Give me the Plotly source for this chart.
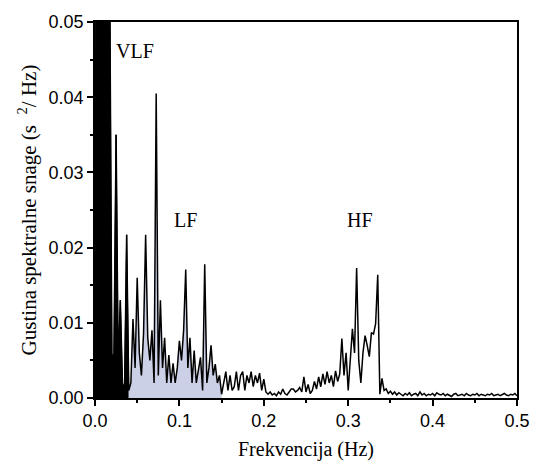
import plotly.graph_objects as go

freq = [
    0.0000, 0.0025, 0.0050, 0.0075, 0.0100, 0.0125, 0.0150, 0.0175, 0.0200, 0.0225,
    0.0250, 0.0275, 0.0300, 0.0325, 0.0350, 0.0375, 0.0400, 0.0425, 0.0450, 0.0475,
    0.0500, 0.0525, 0.0550, 0.0575, 0.0600, 0.0625, 0.0650, 0.0675, 0.0700, 0.0725,
    0.0750, 0.0775, 0.0800, 0.0825, 0.0850, 0.0875, 0.0900, 0.0925, 0.0950, 0.0975,
    0.1000, 0.1025, 0.1050, 0.1075, 0.1100, 0.1125, 0.1150, 0.1175, 0.1200, 0.1225,
    0.1250, 0.1275, 0.1300, 0.1325, 0.1350, 0.1375, 0.1400, 0.1425, 0.1450, 0.1475,
    0.1500, 0.1525, 0.1550, 0.1575, 0.1600, 0.1625, 0.1650, 0.1675, 0.1700, 0.1725,
    0.1750, 0.1775, 0.1800, 0.1825, 0.1850, 0.1875, 0.1900, 0.1925, 0.1950, 0.1975,
    0.2000, 0.2025, 0.2050, 0.2075, 0.2100, 0.2125, 0.2150, 0.2175, 0.2200, 0.2225,
    0.2250, 0.2275, 0.2300, 0.2325, 0.2350, 0.2375, 0.2400, 0.2425, 0.2450, 0.2475,
    0.2500, 0.2525, 0.2550, 0.2575, 0.2600, 0.2625, 0.2650, 0.2675, 0.2700, 0.2725,
    0.2750, 0.2775, 0.2800, 0.2825, 0.2850, 0.2875, 0.2900, 0.2925, 0.2950, 0.2975,
    0.3000, 0.3025, 0.3050, 0.3075, 0.3100, 0.3125, 0.3150, 0.3175, 0.3200, 0.3225,
    0.3250, 0.3275, 0.3300, 0.3325, 0.3350, 0.3375, 0.3400, 0.3425, 0.3450, 0.3475,
    0.3500, 0.3525, 0.3550, 0.3575, 0.3600, 0.3625, 0.3650, 0.3675, 0.3700, 0.3725,
    0.3750, 0.3775, 0.3800, 0.3825, 0.3850, 0.3875, 0.3900, 0.3925, 0.3950, 0.3975,
    0.4000, 0.4025, 0.4050, 0.4075, 0.4100, 0.4125, 0.4150, 0.4175, 0.4200, 0.4225,
    0.4250, 0.4275, 0.4300, 0.4325, 0.4350, 0.4375, 0.4400, 0.4425, 0.4450, 0.4475,
    0.4500, 0.4525, 0.4550, 0.4575, 0.4600, 0.4625, 0.4650, 0.4675, 0.4700, 0.4725,
    0.4750, 0.4775, 0.4800, 0.4825, 0.4850, 0.4875, 0.4900, 0.4925, 0.4950, 0.4975,
    0.5000,
]

psd = [
    0.0000, 0.1200, 0.1500, 0.1400, 0.1200, 0.1000, 0.0800, 0.0550, 0.0050, 0.0060,
    0.0350, 0.0040, 0.0130, 0.0020, 0.0010, 0.0217, 0.0010, 0.0020, 0.0105, 0.0040,
    0.0160, 0.0060, 0.0030, 0.0085, 0.0217, 0.0080, 0.0050, 0.0090, 0.0020, 0.0405,
    0.0030, 0.0130, 0.0040, 0.0080, 0.0020, 0.0057, 0.0020, 0.0046, 0.0020, 0.0040,
    0.0076, 0.0050, 0.0090, 0.0171, 0.0040, 0.0080, 0.0020, 0.0063, 0.0020, 0.0040,
    0.0054, 0.0010, 0.0178, 0.0020, 0.0040, 0.0070, 0.0030, 0.0045, 0.0020, 0.0030,
    0.0005, 0.0020, 0.0035, 0.0010, 0.0030, 0.0010, 0.0015, 0.0035, 0.0010, 0.0030,
    0.0035, 0.0010, 0.0030, 0.0020, 0.0035, 0.0015, 0.0030, 0.0020, 0.0033, 0.0010,
    0.0025, 0.0008, 0.0005, 0.0008, 0.0004, 0.0006, 0.0003, 0.0008, 0.0005, 0.0012,
    0.0006, 0.0004, 0.0008, 0.0012, 0.0012, 0.0008, 0.0010, 0.0014, 0.0008, 0.0028,
    0.0008, 0.0018, 0.0006, 0.0010, 0.0022, 0.0012, 0.0028, 0.0015, 0.0032, 0.0018,
    0.0035, 0.0020, 0.0030, 0.0015, 0.0036, 0.0022, 0.0032, 0.0079, 0.0030, 0.0060,
    0.0010, 0.0050, 0.0092, 0.0060, 0.0173, 0.0050, 0.0020, 0.0060, 0.0083, 0.0070,
    0.0055, 0.0087, 0.0085, 0.0099, 0.0164, 0.0005, 0.0026, 0.0010, 0.0012, 0.0006,
    0.0009, 0.0005, 0.0008, 0.0004, 0.0007, 0.0005, 0.0003, 0.0006, 0.0004, 0.0007,
    0.0003, 0.0005, 0.0006, 0.0003, 0.0008, 0.0004, 0.0006, 0.0003, 0.0005, 0.0004,
    0.0006, 0.0003, 0.0007, 0.0005, 0.0004, 0.0006, 0.0003, 0.0005, 0.0004, 0.0002,
    0.0005, 0.0006, 0.0003, 0.0004, 0.0005, 0.0003, 0.0006, 0.0004, 0.0003, 0.0005,
    0.0004, 0.0006, 0.0003, 0.0005, 0.0004, 0.0003, 0.0005, 0.0004, 0.0006, 0.0003,
    0.0004, 0.0005, 0.0003, 0.0004, 0.0006, 0.0004, 0.0003, 0.0005, 0.0004, 0.0006,
    0.0003,
]

band_labels = ["VLF", "LF", "HF"]
band_label_x = [0.047, 0.107, 0.314]
band_label_y = [0.0462, 0.0237, 0.0237]
vlf_max = 0.04
lf_max = 0.15

xticks = [0.0, 0.1, 0.2, 0.3, 0.4, 0.5]
yticks = [0.00, 0.01, 0.02, 0.03, 0.04, 0.05]

vlf_x = [f for f in freq if f <= vlf_max]
vlf_y = [p for f, p in zip(freq, psd) if f <= vlf_max]
lf_x = [f for f in freq if vlf_max <= f <= lf_max]
lf_y = [p for f, p in zip(freq, psd) if vlf_max <= f <= lf_max]

fig = go.Figure()
fig.add_trace(go.Scatter(x=vlf_x, y=vlf_y, mode="lines", fill="tozeroy",
                         fillcolor="black", line=dict(color="black", width=1)))
fig.add_trace(go.Scatter(x=lf_x, y=lf_y, mode="lines", fill="tozeroy",
                         fillcolor="#ccd0e6", line=dict(color="black", width=0)))
fig.add_trace(go.Scatter(x=freq, y=psd, mode="lines",
                         line=dict(color="black", width=1.5)))

for t, x, y in zip(band_labels, band_label_x, band_label_y):
    fig.add_annotation(x=x, y=y, text=t, showarrow=False,
                       font=dict(family="Liberation Serif", size=20, color="black"))

axis_common = dict(showline=True, linecolor="black", linewidth=1.5, mirror=True,
                   showgrid=False, zeroline=False, ticks="outside", ticklen=6,
                   tickwidth=1.5, tickcolor="black",
                   tickfont=dict(family="Liberation Sans", size=18, color="black"))

fig.update_xaxes(range=[0, 0.5], tickvals=xticks, ticktext=[f"{v:.1f}" for v in xticks],
                 minor=dict(ticks="outside", ticklen=3, dtick=0.05, tickcolor="black"),
                 title=dict(text="Frekvencija (Hz)", standoff=12,
                            font=dict(family="Liberation Serif", size=20, color="black")),
                 **axis_common)
fig.update_yaxes(range=[0, 0.05], tickvals=yticks, ticktext=[f"{v:.2f}" for v in yticks],
                 minor=dict(ticks="outside", ticklen=3, dtick=0.005, tickcolor="black"),
                 title=dict(text="Gustina spektralne snage (s  <sup>2</sup>/ Hz)", standoff=6,
                            font=dict(family="Liberation Serif", size=21, color="black")),
                 **axis_common)

fig.update_layout(width=542, height=469, showlegend=False,
                  paper_bgcolor="white", plot_bgcolor="white",
                  margin=dict(l=95, r=17, t=18, b=71))

fig.write_html("out.html")
